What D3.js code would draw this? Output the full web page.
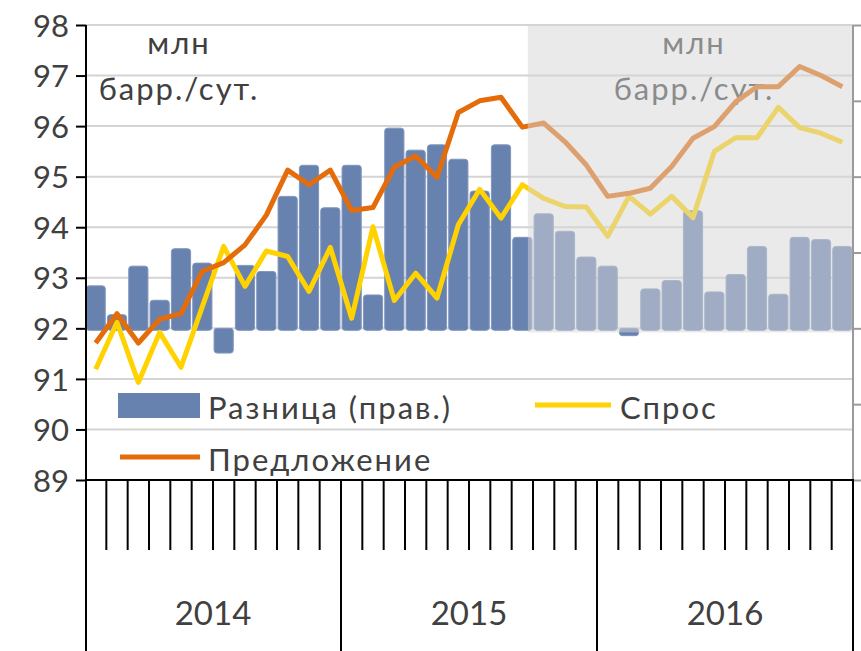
<!DOCTYPE html>
<html><head><meta charset="utf-8">
<script src="https://cdn.jsdelivr.net/npm/d3@7/dist/d3.min.js"></script>
<style>
html,body{margin:0;padding:0;background:#fff;}
svg{display:block;}
text{font-family:Lato,"Open Sans",sans-serif;fill:#404040;}
.cyr{letter-spacing:2px;}
</style></head><body>
<svg id="c" width="861" height="651"></svg>
<script>
const years = ["2014","2015","2016"];
const months = [];
years.forEach(y => { for (let m = 1; m <= 12; m++) months.push(y + "-" + String(m).padStart(2,"0")); });

const supply = [91.71, 92.29, 91.71, 92.18, 92.29, 93.13, 93.30, 93.65, 94.24, 95.13, 94.84, 95.13,
                94.33, 94.39, 95.19, 95.41, 94.99, 96.27, 96.50, 96.57, 95.98, 96.06, 95.69, 95.23,
                94.61, 94.67, 94.77, 95.20, 95.76, 95.99, 96.48, 96.78, 96.78, 97.18, 97.00, 96.78];
const demand = [91.19, 92.12, 90.93, 91.92, 91.23, 92.43, 93.62, 92.83, 93.53, 93.42, 92.73, 93.60,
                92.20, 94.01, 92.55, 93.09, 92.60, 94.05, 94.75, 94.18, 94.84, 94.57, 94.41, 94.40,
                93.82, 94.61, 94.26, 94.61, 94.19, 95.50, 95.77, 95.77, 96.37, 95.97, 95.86, 95.68];
const diff   = [0.56, 0.18, 0.82, 0.37, 1.05, 0.86, -0.30, 0.83, 0.75, 1.74, 2.15, 1.59,
                2.15, 0.44, 2.64, 2.35, 2.42, 2.23, 1.81, 2.42, 1.20, 1.51, 1.28, 0.94,
                0.82, -0.07, 0.52, 0.63, 1.55, 0.48, 0.71, 1.08, 0.45, 1.20, 1.17, 1.08];
const leftTicks = [89, 90, 91, 92, 93, 94, 95, 96, 97, 98];
const rightTicks = [-2, -1, 0, 1, 2, 3, 4];
const unitLines = ["млн", "барр./сут."];
const legendItems = ["Разница (прав.)", "Спрос", "Предложение"];
const forecastStart = "2015-09";   // forecast shading begins inside this month
const forecastBottom = 91.92;

const svg = d3.select("#c");
const L = 86, R = 853, T = 25, B = 480;

const x = d3.scaleBand().domain(months).range([85, R]).paddingInner(0.1).paddingOuter(0.05);
const step = x.step(), bw = x.bandwidth();
const cx = m => x(m) + bw / 2;
const yL = d3.scaleLinear().domain([89, 98]).range([B, T]);
const yR = d3.scaleLinear().domain([-2, 4]).range([B, T]);

// gridlines
svg.append("g").selectAll("line").data(leftTicks.filter(t => t > 89)).join("line")
  .attr("x1", L).attr("x2", R).attr("y1", d => yL(d)).attr("y2", d => yL(d))
  .attr("stroke", "#d4d4d4").attr("stroke-width", 2);

// unit labels (left and right)
const unitX = [179, 694];
unitX.forEach(ux => {
  svg.append("text").attr("class", "cyr").attr("x", ux).attr("y", 54).attr("text-anchor", "middle")
    .attr("font-size", 31).text(unitLines[0]);
  svg.append("text").attr("class", "cyr").attr("x", ux).attr("y", 100).attr("text-anchor", "middle")
    .attr("font-size", 31).text(unitLines[1]);
});

// bars
svg.append("g").selectAll("rect").data(months).join("rect")
  .attr("x", d => x(d)).attr("width", bw)
  .attr("y", (d, i) => Math.min(yR(diff[i]), yR(0)))
  .attr("height", (d, i) => Math.abs(yR(diff[i]) - yR(0)) + 2)
  .attr("rx", 3).attr("fill", "#6882b0").attr("stroke", "#8096bd").attr("stroke-width", 1);

// lines
const line = arr => d3.line().x((d, i) => cx(months[i])).y(d => yL(d))(arr);
svg.append("path").attr("d", line(demand)).attr("fill", "none")
  .attr("stroke", "#ffd200").attr("stroke-width", 5).attr("stroke-linejoin", "round");
svg.append("path").attr("d", line(supply)).attr("fill", "none")
  .attr("stroke", "#e46c0a").attr("stroke-width", 5).attr("stroke-linejoin", "round");

// forecast overlay
const fx = x(forecastStart) + step * 0.71;
svg.append("rect").attr("x", fx).attr("y", yL(98)).attr("width", R - fx)
  .attr("height", yL(forecastBottom) - yL(98)).attr("fill", "rgba(214,214,214,0.5)");

// left axis
const gl = svg.append("g").attr("transform", `translate(${L},0)`)
  .call(d3.axisLeft(yL).tickValues(leftTicks).tickSize(10).tickPadding(7).tickFormat(d3.format("d")));
gl.select(".domain").remove();
gl.selectAll(".tick line").attr("stroke", "#000").attr("stroke-width", 2);
gl.selectAll(".tick text").attr("font-size", 31).attr("fill", "#404040")
  .style("font-family", "Lato, sans-serif").attr("dy", "0.36em");
svg.append("line").attr("x1", L).attr("x2", L).attr("y1", T).attr("y2", 651)
  .attr("stroke", "#000").attr("stroke-width", 2);

// right axis (labels fall outside the picture)
const gr = svg.append("g").attr("transform", `translate(${R},0)`)
  .call(d3.axisRight(yR).tickValues(rightTicks).tickSize(9).tickFormat(""));
gr.select(".domain").remove();
gr.selectAll(".tick line").attr("stroke", "#9a9a9a").attr("stroke-width", 2);
svg.append("line").attr("x1", R).attr("x2", R).attr("y1", T).attr("y2", B)
  .attr("stroke", "#9a9a9a").attr("stroke-width", 2);
svg.append("line").attr("x1", R).attr("x2", R).attr("y1", B).attr("y2", 651)
  .attr("stroke", "#000").attr("stroke-width", 2);

// bottom axis
svg.append("line").attr("x1", L - 1).attr("x2", R + 1).attr("y1", B).attr("y2", B)
  .attr("stroke", "#000").attr("stroke-width", 2);
const bound = m => x(m) - (step - bw) / 2;
svg.append("g").selectAll("line").data(months.filter((m, i) => i % 12 !== 0)).join("line")
  .attr("x1", d => bound(d)).attr("x2", d => bound(d)).attr("y1", B).attr("y2", 550)
  .attr("stroke", "#000").attr("stroke-width", 2);
svg.append("g").selectAll("line").data(years.slice(1)).join("line")
  .attr("x1", d => bound(d + "-01")).attr("x2", d => bound(d + "-01")).attr("y1", B).attr("y2", 651)
  .attr("stroke", "#000").attr("stroke-width", 2);
svg.append("g").selectAll("text").data(years).join("text")
  .attr("x", d => (bound(d + "-01") + x(d + "-12") + bw + (step - bw) / 2) / 2)
  .attr("y", 625).attr("text-anchor", "middle").attr("font-size", 33).text(d => d);

// legend
const lg = svg.append("g");
lg.append("rect").attr("x", 118).attr("y", 393).attr("width", 82).attr("height", 25).attr("fill", "#6882b0");
lg.append("text").attr("class", "cyr").attr("x", 208).attr("y", 419).attr("font-size", 31).text(legendItems[0]);
lg.append("line").attr("x1", 535).attr("x2", 611).attr("y1", 405).attr("y2", 405)
  .attr("stroke", "#ffd200").attr("stroke-width", 5);
lg.append("text").attr("class", "cyr").attr("x", 620).attr("y", 419).attr("font-size", 31).text(legendItems[1]);
lg.append("line").attr("x1", 120).attr("x2", 200).attr("y1", 457).attr("y2", 457)
  .attr("stroke", "#e46c0a").attr("stroke-width", 5);
lg.append("text").attr("class", "cyr").attr("x", 208).attr("y", 471).attr("font-size", 31).text(legendItems[2]);
</script></body></html>
